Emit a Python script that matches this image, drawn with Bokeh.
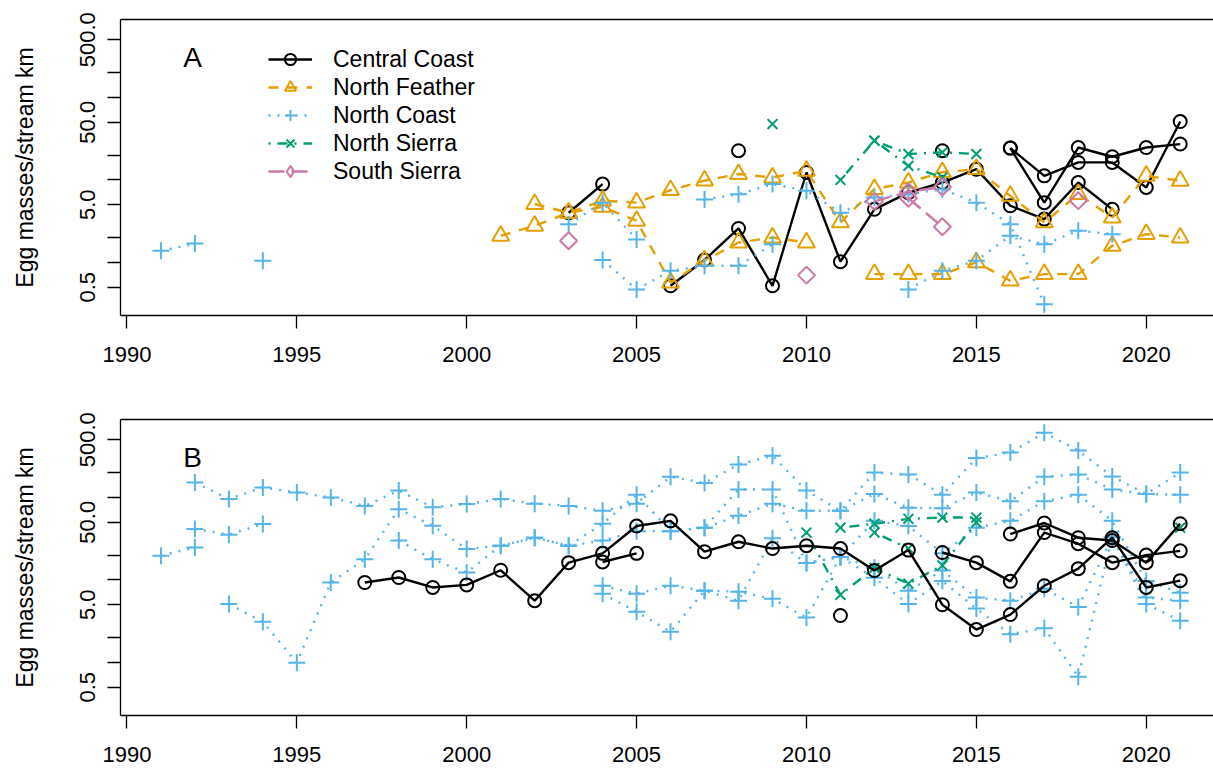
import math
from bokeh.plotting import figure
from bokeh.layouts import column
from bokeh.models import (FixedTicker, CustomJSTickFormatter, LinearAxis, Legend,
                          LegendItem, Label, Range1d)
from bokeh.embed import file_html
from bokeh.resources import INLINE

NAN = float("nan")

# ---------------- data : panel A ----------------
cc_a1_x = [2003, 2004]
cc_a1_y = [4.0, 8.9]
cc_a2_x = list(range(2006, 2020))
cc_a2_y = [0.52, 1.07, 2.58, 0.52, 12.3, 1.02, 4.4, 7.0, 9.3, 13.5, 4.86, 3.35, 9.3, 4.4]
cc_a3_x = list(range(2016, 2022))
cc_a3_y = [24.3, 11.2, 16.3, 16.3, 8.1, 51.0]
cc_a4_x = list(range(2016, 2022))
cc_a4_y = [24.3, 5.3, 24.7, 19.1, 24.7, 27.2]
cc_a5_x = [2008, 2011, 2014]
cc_a5_y = [22.6, None, 22.6]

nf_a1_x = list(range(2001, 2022))
nf_a1_y = [2.1, 2.78, 4.0, 4.7, 3.2, 0.57, 1.05, 1.74, 2.0, 1.74, None,
           0.72, 0.72, 0.72, 1.0, 0.6, 0.72, 0.72, 1.59, 2.2, 2.0]
nf_a2_x = list(range(2002, 2022))
nf_a2_y = [5.1, 4.0, 5.6, 5.3, 7.5, 9.8, 11.8, 10.7, 12.9, 3.05, 7.75, 9.3,
           12.4, 13.5, 6.4, 3.05, 6.75, 3.5, 11.2, 9.75]

nc_a1_x = [1991, 1992, 1993, 1994]
nc_a1_y = [1.38, 1.69, None, 1.05]
nc_a2_x = [2003, 2004, 2005]
nc_a2_y = [2.9, 5.3, 1.9]
nc_a3_x = list(range(2004, 2010))
nc_a3_y = [1.07, 0.47, 0.79, 0.91, 0.91, 1.66]
nc_a4_x = list(range(2007, 2018))
nc_a4_y = [5.8, 6.7, 8.9, 7.4, 4.0, 6.1, 6.7, 7.7, 5.3, 2.9, 0.31]
nc_a5_x = list(range(2013, 2020))
nc_a5_y = [0.47, 0.79, 1.05, 2.1, 1.66, 2.42, 2.2]

ns_a1_x = [2009, 2010, 2011, 2012, 2013, 2014, 2015]
ns_a1_y = [47.5, None, 10.0, 29.9, 20.6, 21.6, 20.6]
ns_a2_x = [2012, 2013, 2014]
ns_a2_y = [29.9, 14.8, 10.7]

ss_a1_x = [2003, 2004, 2010, 2011, 2012, 2013, 2014, 2015, 2018]
ss_a1_y = [1.83, None, 0.7, None, 5.5, 7.2, 8.2, None, 5.6]
ss_a2_x = [2013, 2014]
ss_a2_y = [6.0, 2.7]

# ---------------- data : panel B ----------------
nc_b1_x = list(range(1992, 2022))
nc_b1_y = [152, 96, 132, 115, 100, 79, 121, 76, 83, 96, 84, 79, 69, 84, 178,
           150, 250, 320, 121, 69, 200, 190, 108, 300, 350, 610, 370, 180, 110, 200]
nc_b2_x = [1991, 1992]
nc_b2_y = [19.7, 24.8]
nc_b3_x = [1992, 1993, 1994]
nc_b3_y = [41.5, 35.4, 47.6]
nc_b4_x = list(range(1993, 2022))
nc_b4_y = [5.1, 3.1, 0.99, 9.3, 17.8, 72, 45.4, 23.7, 26, 32.4, 26, 30, 39, 39,
           43, 60, 84, 69, 69, 110, 75, 74, 115, 90, 178, 190, 125, 110, 108]
nc_b5_x = list(range(1998, 2022))
nc_b5_y = [30, 17.8, 12.3, 26, 32.4, 26, 48, 108, 39, 43, 125, 125, 16, 19,
           52, 45, 21, 43, 52, 90, 108, 52, 9.7, 7.0]
nc_b6_x = list(range(2004, 2022))
nc_b6_y = [8.5, 6.8, 8.5, 7.4, 7.2, 5.9, 3.5, 19, 14, 7.4, 13, 6.1, 5.6, 7.8,
           4.7, 33, 6.1, 5.6]
nc_b7_x = list(range(2004, 2022))
nc_b7_y = [6.8, 4.1, 2.35, 7.4, 5.6, 32, 16, 19, 10.6, 5.1, 9.7, 4.5, 2.2, 2.6,
           0.67, 33, 5.1, 3.2]

cc_b1_x = list(range(1997, 2022))
cc_b1_y = [9.3, 10.7, 8.1, 8.7, 13.1, 5.6, 16.2, 21, 45, 52, 22, 29, 24, 26, 24,
           13, 23, 5.0, 2.5, 3.8, 8.5, 13.7, 32.5, 8.1, 9.8]
cc_b2_x = list(range(2004, 2022))
cc_b2_y = [16.5, 21, None, None, None, None, None, None, None, None, 21.5, 16.2,
           9.6, 37.5, 27.5, 16.2, 20, 22.5]
cc_b3_x = list(range(2011, 2022))
cc_b3_y = [3.7, None, None, None, None, 36, 49, 32.5, 30, 16.2, 48]

ns_b1_x = list(range(2011, 2016))
ns_b1_y = [43, 48, 55, 57, 57]
ns_b2_x = list(range(2010, 2016))
ns_b2_y = [37.5, 6.6, 14, 9, 15, 50]
ns_b3_x = [2012, 2013, 2014, 2021]
ns_b3_y = [37.5, 24, None, 43]

# ---------------- style ----------------
STYLE = {
    "cc": dict(color="#000000", dash="solid", marker="circle", size=13, angle=0.0, leg="circle"),
    "nf": dict(color="#E69F00", dash="10 9", marker="triangle", size=17, angle=0.0, leg="triangle"),
    "nc": dict(color="#56B4E9", dash="2 7", marker="cross", size=17, angle=0.0, leg="cross"),
    "ns": dict(color="#009E73", dash="2 7 10 7", marker="x", size=14, angle=0.0, leg="x"),
    "ss": dict(color="#CC79A7", dash="16 7", marker="square", size=12, angle=math.pi / 4, leg="diamond"),
}
FONT = "Liberation Sans"
X0, X1 = 1989.81, 2021.98
Y0, Y1 = 0.227, 881.0
LW = 2.4


def draw(p, key, xs, ys):
    st = STYLE[key]
    ys = [NAN if v is None else v for v in ys]
    rl = p.line(xs, ys, line_color=st["color"], line_width=LW, line_dash=st["dash"])
    p.scatter(xs, ys, marker=st["marker"], size=st["size"], angle=st["angle"],
              fill_color=None, line_color=st["color"], line_width=2)
    return rl


def legend_marker(p, key):
    # key glyph only: a single missing point, so nothing is drawn in the plot area
    st = STYLE[key]
    return p.scatter(x=[NAN], y=[NAN], marker=st["leg"], size=st["size"],
                     fill_color=None, line_color=st["color"], line_width=2)


def make_panel(h, letter):
    p = figure(width=1213, height=h, y_axis_type="log",
               x_range=Range1d(X0, X1), y_range=Range1d(Y0, Y1),
               output_backend="svg", toolbar_location=None,
               min_border_left=120, min_border_right=0, min_border_top=19,
               min_border_bottom=h - 19 - 296, outline_line_color=None,
               background_fill_color="white", border_fill_color="white")
    p.grid.visible = False
    xa = p.xaxis[0]
    xa.ticker = FixedTicker(ticks=[1990, 1995, 2000, 2005, 2010, 2015, 2020])
    ya = p.yaxis[0]
    ya.ticker = FixedTicker(ticks=[0.5, 1, 2, 5, 10, 20, 50, 100, 200, 500])
    ya.formatter = CustomJSTickFormatter(code="""
        const l = Math.log10(tick / 5);
        if (Math.abs(l - Math.round(l)) < 1e-6) { return tick.toFixed(1); }
        return "";
    """)
    ya.major_label_orientation = "vertical"
    ya.axis_label = "Egg masses/stream km"
    for ax in (xa, ya):
        ax.axis_line_color = "black"
        ax.axis_line_width = 1.3
        ax.major_tick_line_color = "black"
        ax.major_tick_line_width = 1.3
        ax.major_tick_out = 13
        ax.major_tick_in = 0
        ax.minor_tick_line_color = None
        ax.major_label_text_font = FONT
        ax.major_label_text_font_size = "22px"
        ax.major_label_text_color = "black"
        ax.axis_label_text_font = FONT
        ax.axis_label_text_font_size = "23px"
        ax.axis_label_text_font_style = "normal"
        ax.axis_label_text_color = "black"
    xa.major_label_standoff = 18
    ya.major_label_standoff = 12
    ya.axis_label_standoff = 40
    top = LinearAxis(ticker=FixedTicker(ticks=[]), axis_line_color="black",
                     axis_line_width=1.3, major_tick_line_color=None,
                     minor_tick_line_color=None, major_label_text_font_size="0px")
    p.add_layout(top, "above")
    p.add_layout(Label(x=1991.93, y=305, text=letter, text_font=FONT,
                       text_font_size="28px", text_align="center",
                       text_baseline="middle", text_color="black"))
    return p


pA = make_panel(400, "A")
first = {}
first["cc"] = draw(pA, "cc", cc_a2_x, cc_a2_y)
draw(pA, "cc", cc_a1_x, cc_a1_y)
draw(pA, "cc", cc_a3_x, cc_a3_y)
draw(pA, "cc", cc_a4_x, cc_a4_y)
draw(pA, "cc", cc_a5_x, cc_a5_y)
first["nf"] = draw(pA, "nf", nf_a1_x, nf_a1_y)
draw(pA, "nf", nf_a2_x, nf_a2_y)
first["nc"] = draw(pA, "nc", nc_a1_x, nc_a1_y)
draw(pA, "nc", nc_a2_x, nc_a2_y)
draw(pA, "nc", nc_a3_x, nc_a3_y)
draw(pA, "nc", nc_a4_x, nc_a4_y)
draw(pA, "nc", nc_a5_x, nc_a5_y)
first["ns"] = draw(pA, "ns", ns_a1_x, ns_a1_y)
draw(pA, "ns", ns_a2_x, ns_a2_y)
first["ss"] = draw(pA, "ss", ss_a1_x, ss_a1_y)
draw(pA, "ss", ss_a2_x, ss_a2_y)

names = [("cc", "Central Coast"), ("nf", "North Feather"), ("nc", "North Coast"),
         ("ns", "North Sierra"), ("ss", "South Sierra")]
items = []
for k, lab in names:
    items.append(LegendItem(label=lab, renderers=[first[k], legend_marker(pA, k)]))
legend = Legend(items=items, location=(148, 130), orientation="vertical",
                glyph_width=44, glyph_height=28, label_height=28, spacing=0,
                padding=0, margin=0, label_standoff=21,
                label_text_font=FONT, label_text_font_size="23px",
                label_text_color="black", border_line_color=None,
                background_fill_alpha=0)
pA.add_layout(legend)

pB = make_panel(369, "B")
for xs, ys in [(nc_b1_x, nc_b1_y), (nc_b2_x, nc_b2_y), (nc_b3_x, nc_b3_y),
               (nc_b4_x, nc_b4_y), (nc_b5_x, nc_b5_y), (nc_b6_x, nc_b6_y),
               (nc_b7_x, nc_b7_y)]:
    draw(pB, "nc", xs, ys)
for xs, ys in [(ns_b1_x, ns_b1_y), (ns_b2_x, ns_b2_y), (ns_b3_x, ns_b3_y)]:
    draw(pB, "ns", xs, ys)
for xs, ys in [(cc_b1_x, cc_b1_y), (cc_b2_x, cc_b2_y), (cc_b3_x, cc_b3_y)]:
    draw(pB, "cc", xs, ys)

layout = column(pA, pB, spacing=0)
open("out.html", "w").write(file_html(layout, INLINE))
